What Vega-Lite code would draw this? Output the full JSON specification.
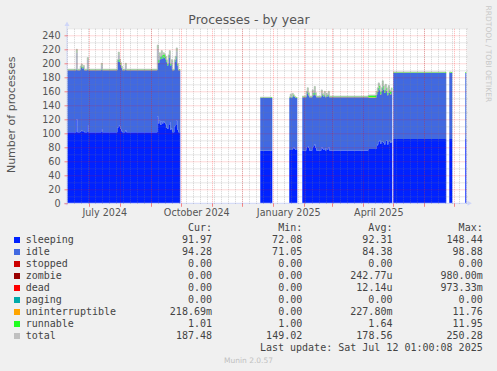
{
  "$schema": "https://vega.github.io/schema/vega-lite/v6.json",
  "width": 400,
  "height": 175,
  "autosize": "none",
  "padding": {"left": 67, "top": 28.3, "right": 30, "bottom": 167.7},
  "background": "#f0f0f0",
  "config": {"view": {"fill": "#ffffff", "stroke": null}, "font": "DejaVu Sans"},
  "datasets": {
    "ts": [
      {"date": "2024-06-09", "sleeping": 101.5, "idle": 88.7, "uninterruptible": 0.3, "runnable": 1, "total": 191.5},
      {"date": "2024-06-18", "sleeping": 120, "idle": 94.7, "uninterruptible": 0.3, "runnable": 5, "total": 220},
      {"date": "2024-06-19", "sleeping": 101.5, "idle": 88.7, "uninterruptible": 0.3, "runnable": 1, "total": 191.5},
      {"date": "2024-06-22", "sleeping": 103, "idle": 90.7, "uninterruptible": 0.3, "runnable": 2, "total": 196},
      {"date": "2024-06-23", "sleeping": 104, "idle": 91.7, "uninterruptible": 0.3, "runnable": 3, "total": 199},
      {"date": "2024-06-24", "sleeping": 103, "idle": 89.7, "uninterruptible": 0.3, "runnable": 2, "total": 195},
      {"date": "2024-06-25", "sleeping": 103, "idle": 91.7, "uninterruptible": 0.3, "runnable": 2, "total": 197},
      {"date": "2024-06-26", "sleeping": 101.5, "idle": 88.7, "uninterruptible": 0.3, "runnable": 1, "total": 191.5},
      {"date": "2024-06-29", "sleeping": 112, "idle": 92.7, "uninterruptible": 0.3, "runnable": 3, "total": 208},
      {"date": "2024-06-30", "sleeping": 101.5, "idle": 88.7, "uninterruptible": 0.3, "runnable": 1, "total": 191.5},
      {"date": "2024-07-13", "sleeping": 106, "idle": 90.7, "uninterruptible": 0.3, "runnable": 3, "total": 200},
      {"date": "2024-07-14", "sleeping": 101.5, "idle": 88.7, "uninterruptible": 0.3, "runnable": 1, "total": 191.5},
      {"date": "2024-07-29", "sleeping": 108, "idle": 93.7, "uninterruptible": 0.3, "runnable": 3, "total": 205},
      {"date": "2024-07-30", "sleeping": 112, "idle": 99.7, "uninterruptible": 0.3, "runnable": 4, "total": 216},
      {"date": "2024-07-31", "sleeping": 110, "idle": 91.7, "uninterruptible": 0.3, "runnable": 4, "total": 206},
      {"date": "2024-08-01", "sleeping": 106, "idle": 91.7, "uninterruptible": 0.3, "runnable": 3, "total": 201},
      {"date": "2024-08-02", "sleeping": 103, "idle": 90.7, "uninterruptible": 0.3, "runnable": 2, "total": 196},
      {"date": "2024-08-03", "sleeping": 101.5, "idle": 88.7, "uninterruptible": 0.3, "runnable": 1, "total": 191.5},
      {"date": "2024-08-06", "sleeping": 104, "idle": 92.7, "uninterruptible": 0.3, "runnable": 3, "total": 200},
      {"date": "2024-08-07", "sleeping": 101.5, "idle": 88.7, "uninterruptible": 0.3, "runnable": 1, "total": 191.5},
      {"date": "2024-09-07", "sleeping": 124, "idle": 96.7, "uninterruptible": 0.3, "runnable": 5, "total": 226},
      {"date": "2024-09-08", "sleeping": 114, "idle": 86.7, "uninterruptible": 0.3, "runnable": 4, "total": 205},
      {"date": "2024-09-09", "sleeping": 118, "idle": 92.7, "uninterruptible": 0.3, "runnable": 4, "total": 215},
      {"date": "2024-09-10", "sleeping": 112, "idle": 93.7, "uninterruptible": 0.3, "runnable": 4, "total": 210},
      {"date": "2024-09-11", "sleeping": 117, "idle": 95.7, "uninterruptible": 0.3, "runnable": 5, "total": 218},
      {"date": "2024-09-12", "sleeping": 114, "idle": 92.7, "uninterruptible": 0.3, "runnable": 5, "total": 212},
      {"date": "2024-09-13", "sleeping": 117, "idle": 92.7, "uninterruptible": 0.3, "runnable": 5, "total": 215},
      {"date": "2024-09-14", "sleeping": 115, "idle": 92.7, "uninterruptible": 0.3, "runnable": 5, "total": 213},
      {"date": "2024-09-15", "sleeping": 113, "idle": 92.7, "uninterruptible": 0.3, "runnable": 4, "total": 210},
      {"date": "2024-09-16", "sleeping": 108, "idle": 93.7, "uninterruptible": 0.3, "runnable": 3, "total": 205},
      {"date": "2024-09-17", "sleeping": 106, "idle": 90.7, "uninterruptible": 0.3, "runnable": 3, "total": 200},
      {"date": "2024-09-18", "sleeping": 112, "idle": 95.7, "uninterruptible": 0.3, "runnable": 4, "total": 212},
      {"date": "2024-09-19", "sleeping": 116, "idle": 96.7, "uninterruptible": 0.3, "runnable": 5, "total": 218},
      {"date": "2024-09-20", "sleeping": 105, "idle": 91.7, "uninterruptible": 0.3, "runnable": 3, "total": 200},
      {"date": "2024-09-21", "sleeping": 107, "idle": 94.7, "uninterruptible": 0.3, "runnable": 3, "total": 205},
      {"date": "2024-09-22", "sleeping": 101.5, "idle": 88.7, "uninterruptible": 0.3, "runnable": 1, "total": 191.5},
      {"date": "2024-09-24", "sleeping": 110, "idle": 91.7, "uninterruptible": 0.3, "runnable": 3, "total": 205},
      {"date": "2024-09-25", "sleeping": 112, "idle": 93.7, "uninterruptible": 0.3, "runnable": 4, "total": 210},
      {"date": "2024-09-26", "sleeping": 118, "idle": 98.7, "uninterruptible": 0.3, "runnable": 5, "total": 222},
      {"date": "2024-09-27", "sleeping": 105, "idle": 91.7, "uninterruptible": 0.3, "runnable": 3, "total": 200},
      {"date": "2024-09-28", "sleeping": 101.5, "idle": 88.7, "uninterruptible": 0.3, "runnable": 1, "total": 191.5},
      {"date": "2024-09-29", "sleeping": 101.5, "idle": 88.7, "uninterruptible": 0.3, "runnable": 1, "total": 191.5},
      {"date": "2024-09-30", "sleeping": 0, "idle": 0, "uninterruptible": 0, "runnable": 0, "total": null},
      {"date": "2024-12-19", "sleeping": 75, "idle": 75.3, "uninterruptible": 0.2, "runnable": 1, "total": 151.5},
      {"date": "2024-12-30", "sleeping": 75, "idle": 75.3, "uninterruptible": 0.2, "runnable": 1, "total": 151.5},
      {"date": "2024-12-31", "sleeping": 0, "idle": 0, "uninterruptible": 0, "runnable": 0, "total": null},
      {"date": "2025-01-17", "sleeping": 76, "idle": 74.8, "uninterruptible": 0.2, "runnable": 1, "total": 152},
      {"date": "2025-01-18", "sleeping": 76, "idle": 76.8, "uninterruptible": 0.2, "runnable": 3, "total": 156},
      {"date": "2025-01-19", "sleeping": 76, "idle": 74.8, "uninterruptible": 0.2, "runnable": 1, "total": 152},
      {"date": "2025-01-20", "sleeping": 78, "idle": 75.8, "uninterruptible": 0.2, "runnable": 3, "total": 157},
      {"date": "2025-01-21", "sleeping": 80, "idle": 72.8, "uninterruptible": 0.2, "runnable": 2, "total": 155},
      {"date": "2025-01-22", "sleeping": 78, "idle": 73.8, "uninterruptible": 0.2, "runnable": 1, "total": 153},
      {"date": "2025-01-23", "sleeping": 76, "idle": 74.8, "uninterruptible": 0.2, "runnable": 1, "total": 152},
      {"date": "2025-01-24", "sleeping": 76, "idle": 74.8, "uninterruptible": 0.2, "runnable": 1, "total": 152},
      {"date": "2025-01-25", "sleeping": 0, "idle": 0, "uninterruptible": 0, "runnable": 0, "total": null},
      {"date": "2025-01-30", "sleeping": 75.5, "idle": 75.9, "uninterruptible": 0.6, "runnable": 1, "total": 153},
      {"date": "2025-02-03", "sleeping": 80, "idle": 76.4, "uninterruptible": 0.6, "runnable": 3, "total": 160},
      {"date": "2025-02-04", "sleeping": 82, "idle": 78.4, "uninterruptible": 0.6, "runnable": 4, "total": 165},
      {"date": "2025-02-05", "sleeping": 79, "idle": 75.4, "uninterruptible": 0.6, "runnable": 3, "total": 158},
      {"date": "2025-02-06", "sleeping": 75.5, "idle": 75.9, "uninterruptible": 0.6, "runnable": 1, "total": 153},
      {"date": "2025-02-09", "sleeping": 80, "idle": 78.4, "uninterruptible": 0.6, "runnable": 3, "total": 162},
      {"date": "2025-02-10", "sleeping": 82, "idle": 72.4, "uninterruptible": 0.6, "runnable": 3, "total": 158},
      {"date": "2025-02-11", "sleeping": 84, "idle": 78.4, "uninterruptible": 0.6, "runnable": 4, "total": 167},
      {"date": "2025-02-12", "sleeping": 79, "idle": 75.4, "uninterruptible": 0.6, "runnable": 3, "total": 158},
      {"date": "2025-02-13", "sleeping": 75.5, "idle": 75.9, "uninterruptible": 0.6, "runnable": 1, "total": 153},
      {"date": "2025-02-18", "sleeping": 80, "idle": 78.4, "uninterruptible": 0.6, "runnable": 3, "total": 162},
      {"date": "2025-02-19", "sleeping": 78, "idle": 76.4, "uninterruptible": 0.6, "runnable": 2, "total": 157},
      {"date": "2025-02-20", "sleeping": 76, "idle": 76.4, "uninterruptible": 0.6, "runnable": 2, "total": 155},
      {"date": "2025-02-21", "sleeping": 79, "idle": 77.4, "uninterruptible": 0.6, "runnable": 3, "total": 160},
      {"date": "2025-02-22", "sleeping": 75.5, "idle": 75.9, "uninterruptible": 0.6, "runnable": 1, "total": 153},
      {"date": "2025-02-23", "sleeping": 78, "idle": 76.4, "uninterruptible": 0.6, "runnable": 2, "total": 157},
      {"date": "2025-02-24", "sleeping": 77, "idle": 75.4, "uninterruptible": 0.6, "runnable": 2, "total": 155},
      {"date": "2025-02-25", "sleeping": 80, "idle": 76.4, "uninterruptible": 0.6, "runnable": 3, "total": 160},
      {"date": "2025-02-26", "sleeping": 75.5, "idle": 75.9, "uninterruptible": 0.6, "runnable": 1, "total": 153},
      {"date": "2025-04-06", "sleeping": 77.5, "idle": 73.4, "uninterruptible": 0.6, "runnable": 3, "total": 154.5},
      {"date": "2025-04-14", "sleeping": 82, "idle": 73.4, "uninterruptible": 0.6, "runnable": 4, "total": 160},
      {"date": "2025-04-15", "sleeping": 84, "idle": 75.4, "uninterruptible": 0.6, "runnable": 5, "total": 165},
      {"date": "2025-04-16", "sleeping": 88, "idle": 77.4, "uninterruptible": 0.6, "runnable": 6, "total": 172},
      {"date": "2025-04-17", "sleeping": 90, "idle": 72.4, "uninterruptible": 0.6, "runnable": 5, "total": 168},
      {"date": "2025-04-18", "sleeping": 85, "idle": 70.4, "uninterruptible": 0.6, "runnable": 4, "total": 160},
      {"date": "2025-04-19", "sleeping": 88, "idle": 72.4, "uninterruptible": 0.6, "runnable": 4, "total": 165},
      {"date": "2025-04-20", "sleeping": 88, "idle": 80.4, "uninterruptible": 0.6, "runnable": 6, "total": 175},
      {"date": "2025-04-21", "sleeping": 86, "idle": 76.4, "uninterruptible": 0.6, "runnable": 5, "total": 168},
      {"date": "2025-04-22", "sleeping": 84, "idle": 73.4, "uninterruptible": 0.6, "runnable": 4, "total": 162},
      {"date": "2025-04-23", "sleeping": 89, "idle": 75.4, "uninterruptible": 0.6, "runnable": 5, "total": 170},
      {"date": "2025-04-24", "sleeping": 90, "idle": 70.4, "uninterruptible": 0.6, "runnable": 4, "total": 165},
      {"date": "2025-04-25", "sleeping": 84, "idle": 70.4, "uninterruptible": 0.6, "runnable": 3, "total": 158},
      {"date": "2025-04-26", "sleeping": 88, "idle": 74.4, "uninterruptible": 0.6, "runnable": 5, "total": 168},
      {"date": "2025-04-27", "sleeping": 90, "idle": 67.4, "uninterruptible": 0.6, "runnable": 4, "total": 162},
      {"date": "2025-04-28", "sleeping": 86, "idle": 69.4, "uninterruptible": 0.6, "runnable": 4, "total": 160},
      {"date": "2025-04-29", "sleeping": 88, "idle": 72.4, "uninterruptible": 0.6, "runnable": 4, "total": 165},
      {"date": "2025-04-30", "sleeping": 0, "idle": 0, "uninterruptible": 0, "runnable": 0, "total": null},
      {"date": "2025-05-01", "sleeping": 92, "idle": 94.3, "uninterruptible": 0.2, "runnable": 1, "total": 187.5},
      {"date": "2025-06-22", "sleeping": 92, "idle": 94.3, "uninterruptible": 0.2, "runnable": 1, "total": 187.5},
      {"date": "2025-06-23", "sleeping": 0, "idle": 0, "uninterruptible": 0, "runnable": 0, "total": null},
      {"date": "2025-06-26", "sleeping": 92, "idle": 94.3, "uninterruptible": 0.2, "runnable": 1, "total": 187.5},
      {"date": "2025-06-28", "sleeping": 92, "idle": 94.3, "uninterruptible": 0.2, "runnable": 1, "total": 187.5},
      {"date": "2025-06-29", "sleeping": 0, "idle": 0, "uninterruptible": 0, "runnable": 0, "total": null},
      {"date": "2025-07-12", "sleeping": 92, "idle": 94.3, "uninterruptible": 0.2, "runnable": 1, "total": 187.5},
      {"date": "2025-07-13", "sleeping": 0, "idle": 0, "uninterruptible": 0, "runnable": 0, "total": null}
    ],
    "series": [
      {"key": "sleeping", "rank": 1},
      {"key": "idle", "rank": 2},
      {"key": "uninterruptible", "rank": 7},
      {"key": "runnable", "rank": 8}
    ],
    "table": [
      {"series": "header", "cur": "Cur:\u00a0\u00a0", "min": "Min:\u00a0\u00a0", "avg": "Avg:\u00a0\u00a0", "max": "Max:\u00a0\u00a0"},
      {"series": "sleeping", "cur": "91.97\u00a0", "min": "72.08\u00a0", "avg": "92.31\u00a0", "max": "148.44\u00a0"},
      {"series": "idle", "cur": "94.28\u00a0", "min": "71.05\u00a0", "avg": "84.38\u00a0", "max": "98.88\u00a0"},
      {"series": "stopped", "cur": "0.00\u00a0", "min": "0.00\u00a0", "avg": "0.00\u00a0", "max": "0.00\u00a0"},
      {"series": "zombie", "cur": "0.00\u00a0", "min": "0.00\u00a0", "avg": "242.77u", "max": "980.00m"},
      {"series": "dead", "cur": "0.00\u00a0", "min": "0.00\u00a0", "avg": "12.14u", "max": "973.33m"},
      {"series": "paging", "cur": "0.00\u00a0", "min": "0.00\u00a0", "avg": "0.00\u00a0", "max": "0.00\u00a0"},
      {"series": "uninterruptible", "cur": "218.69m", "min": "0.00\u00a0", "avg": "227.80m", "max": "11.76\u00a0"},
      {"series": "runnable", "cur": "1.01\u00a0", "min": "1.00\u00a0", "avg": "1.64\u00a0", "max": "11.95\u00a0"},
      {"series": "total", "cur": "187.48\u00a0", "min": "149.02\u00a0", "avg": "178.56\u00a0", "max": "250.28\u00a0"},
      {"series": "update", "cur": null, "min": null, "avg": null, "max": "Last update: Sat Jul 12 01:00:08 2025"}
    ]
  },
  "data": {"name": "ts"},
  "layer": [
    {
      "layer": [
        {
          "transform": [
            {"fold": ["sleeping", "idle", "uninterruptible", "runnable"], "as": ["key", "val"]},
            {"lookup": "key", "from": {"data": {"name": "series"}, "key": "key", "fields": ["rank"]}}
          ],
          "mark": {"type": "area", "interpolate": "step-after", "opacity": 1},
          "encoding": {
            "x": {"field": "date", "type": "temporal",
              "scale": {"type": "utc", "domain": [1717866000000, 1752426000000], "nice": false},
              "axis": {"orient": "top", "tickCount": {"interval": "week", "step": 1}, "grid": true, "gridColor": "#808080", "gridOpacity": 0.35, "gridDash": [1, 1], "labels": false, "ticks": false, "domain": false, "zindex": 1,
                "title": "Processes - by year", "titleFont": "DejaVu Sans", "titleFontSize": 12.5, "titleFontWeight": "normal", "titleColor": "#555555", "titleX": 181.5, "titleY": -5, "titleAlign": "center", "titleBaseline": "alphabetic", "titleAngle": 0}},
            "y": {"field": "val", "type": "quantitative", "stack": "zero",
              "scale": {"domain": [0, 250], "nice": false},
              "axis": {"orient": "right", "values": [10, 30, 50, 70, 90, 110, 130, 150, 170, 190, 210, 230, 250], "grid": true, "gridColor": "#808080", "gridOpacity": 0.35, "gridDash": [1, 1], "labels": false, "ticks": false, "domain": false, "title": null, "zindex": 1}},
            "color": {"field": "key", "type": "nominal",
              "scale": {"domain": ["sleeping", "idle", "stopped", "zombie", "dead", "paging", "uninterruptible", "runnable", "total"], "range": ["#0022ff", "#4169e1", "#cc0000", "#990000", "#ff0000", "#00aaaa", "#ffa500", "#22ff22", "#c0c0c0"]},
              "legend": {"orient": "none", "legendX": -55, "legendY": 206.7, "title": null, "padding": 0, "symbolType": "square", "symbolSize": 36, "symbolStrokeWidth": 0, "symbolOpacity": 1, "labelFont": "DejaVu Sans Mono", "labelFontSize": 10, "labelColor": "#444444", "labelOffset": 3.7, "rowPadding": 2, "labelLimit": 200}},
            "order": {"field": "rank", "type": "quantitative"}
          }
        },
        {
          "mark": {"type": "line", "interpolate": "step-after", "stroke": "#c0c0c0", "strokeWidth": 1, "invalid": "break-paths-show-domains"},
          "encoding": {
            "x": {"field": "date", "type": "temporal",
              "scale": {"type": "utc", "domain": [1717866000000, 1752426000000], "nice": false},
              "axis": {"orient": "bottom", "tickCount": {"interval": "month", "step": 1}, "grid": true, "gridColor": "#ff0000", "gridOpacity": 0.3, "gridDash": [1, 1], "ticks": true, "tickColor": "#ff0000", "tickOpacity": 0.45, "tickSize": 3, "domain": false,
                "labelExpr": "(utcmonth(datum.value) % 3 == 0 && datum.value < 1748736000000) ? utcFormat(datum.value, '%B %Y') : ''", "labelOffset": 15, "labelFont": "DejaVu Sans", "labelFontSize": 9.6, "labelColor": "#555555", "labelPadding": 9.2, "labelBaseline": "alphabetic", "labelOverlap": false, "labelFlush": false, "labelBound": false, "title": null, "zindex": 1}},
            "y": {"field": "total", "type": "quantitative",
              "scale": {"domain": [0, 250], "nice": false},
              "axis": {"orient": "left", "values": [0, 20, 40, 60, 80, 100, 120, 140, 160, 180, 200, 220, 240], "grid": true, "gridColor": "#ff0000", "gridOpacity": {"condition": {"test": "datum.value === 0", "value": 0}, "value": 0.3}, "gridDash": [1, 1], "ticks": true, "tickColor": "#ff0000", "tickOpacity": 0.45, "tickSize": 3, "domain": false,
                "labelFont": "DejaVu Sans", "labelFontSize": 9.6, "labelColor": "#555555", "labelPadding": 4, "labelBaseline": "middle", "labelFlush": false, "labelOverlap": false,
                "title": "Number of processes", "titleFont": "DejaVu Sans", "titleFontSize": 11, "titleFontWeight": "normal", "titleColor": "#555555", "titleX": -56, "titleY": 86, "titleAngle": -90, "titleAlign": "center", "titleBaseline": "middle", "zindex": 1}}
          }
        },
        {
          "data": {"values": [{}]},
          "mark": {"type": "rule", "color": "#cfd6f8", "strokeWidth": 1},
          "encoding": {
            "x": {"datum": 1717606800000, "type": "temporal", "axis": null},
            "x2": {"datum": 1752512400000},
            "y": {"datum": 0, "type": "quantitative", "axis": null}
          }
        },
        {
          "data": {"values": [{}]},
          "mark": {"type": "rule", "color": "#cfd6f8", "strokeWidth": 1},
          "encoding": {
            "x": {"datum": 1717866000000, "type": "temporal", "axis": null},
            "y": {"datum": -3, "type": "quantitative", "axis": null},
            "y2": {"datum": 253}
          }
        },
        {
          "data": {"values": [{}]},
          "mark": {"type": "point", "shape": "triangle-right", "size": 25, "filled": true, "color": "#cfd6f8", "opacity": 1},
          "encoding": {
            "x": {"datum": 1752652800000, "type": "temporal", "axis": null},
            "y": {"datum": 0, "type": "quantitative", "axis": null}
          }
        },
        {
          "data": {"values": [{}]},
          "mark": {"type": "point", "shape": "triangle-up", "size": 25, "filled": true, "color": "#cfd6f8", "opacity": 1},
          "encoding": {
            "x": {"datum": 1717866000000, "type": "temporal", "axis": null},
            "y": {"datum": 256.5, "type": "quantitative", "axis": null}
          }
        }
      ],
      "resolve": {"axis": {"x": "independent", "y": "independent"}}
    },
    {
      "data": {"name": "table"},
      "transform": [
        {"fold": ["cur", "min", "avg", "max"], "as": ["col", "val"]},
        {"filter": "datum.val != null"}
      ],
      "mark": {"type": "text", "align": "right", "baseline": "middle", "font": "DejaVu Sans Mono", "fontSize": 10, "color": "#444444"},
      "encoding": {
        "x": {"field": "col", "type": "nominal",
          "scale": {"type": "point", "domain": ["cur", "min", "avg", "max"], "range": [145, 415.7], "padding": 0},
          "axis": {"orient": "bottom", "labels": false, "ticks": false, "domain": false, "grid": false, "title": "Munin 2.0.57", "titleFont": "DejaVu Sans", "titleFontSize": 7.5, "titleFontWeight": "normal", "titleColor": "#c0c0c0", "titleX": 181, "titleY": 156.7, "titleAlign": "center", "titleBaseline": "middle", "titleAngle": 0}},
        "y": {"field": "series", "type": "nominal",
          "scale": {"type": "point", "domain": ["header", "sleeping", "idle", "stopped", "zombie", "dead", "paging", "uninterruptible", "runnable", "total", "update"], "range": [199.7, 319.7], "padding": 0},
          "axis": {"orient": "right", "labels": false, "ticks": false, "domain": false, "grid": false, "title": "RRDTOOL / TOBI OETIKER", "titleFont": "DejaVu Sans", "titleFontSize": 7.5, "titleFontWeight": "normal", "titleColor": "#c8c8c8", "titleX": 20.7, "titleY": 25.1, "titleAngle": 90, "titleAlign": "center", "titleBaseline": "middle"}},
        "text": {"field": "val"}
      }
    }
  ],
  "resolve": {"scale": {"x": "independent", "y": "independent"}, "axis": {"x": "independent", "y": "independent"}}
}
